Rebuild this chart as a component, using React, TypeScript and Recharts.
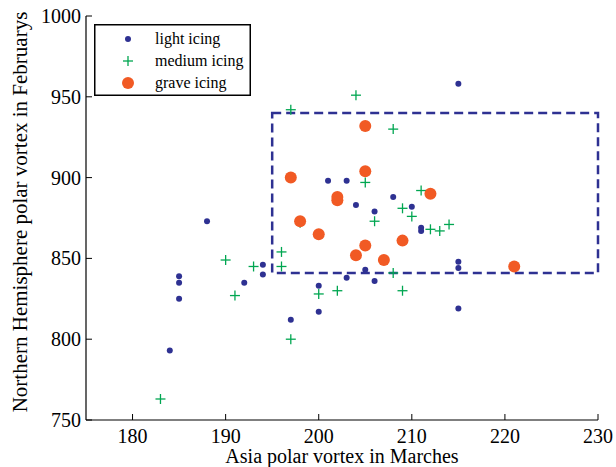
import React from 'react';
import { ScatterChart, Scatter, XAxis, YAxis, ReferenceArea, Legend, Label } from 'recharts';

const FONT = '"Liberation Serif", "Times New Roman", serif';
const NAVY = '#2e3192';
const GREEN = '#00a651';
const ORANGE = '#f15a24';

const xTicks = [180, 190, 200, 210, 220, 230];
const xTopTicks = [180, 190, 200, 210, 220];
const yTicks = [750, 800, 850, 900, 950, 1000];
const yRightTicks = [800, 850, 900, 950];

// [Asia vortex in March, NH vortex in February]
const lightIcing: [number, number][] = [
    [184, 793], [185, 825], [185, 835], [185, 839], [188, 873], [192, 835], [194, 840], [194, 846],
    [197, 812], [200, 817], [200, 833], [201, 898], [203, 838], [203, 898], [204, 883], [205, 843],
    [206, 836], [206, 879], [208, 888], [210, 882], [211, 867], [211, 869], [215, 819], [215, 844],
    [215, 848], [215, 958],
];
const mediumIcing: [number, number][] = [
    [183, 763], [190, 849], [191, 827], [193, 845], [196, 845], [196, 854], [197, 800], [197, 942],
    [198, 872], [200, 828], [202, 830], [204, 951], [205, 897], [206, 873], [208, 930], [208, 841],
    [209, 881], [209, 830], [210, 876], [211, 892], [212, 868], [213, 867], [214, 871],
];
const graveIcing: [number, number][] = [
    [197, 900], [198, 873], [200, 865], [202, 886], [202, 888], [204, 852], [205, 858], [205, 904],
    [205, 932], [207, 849], [209, 861], [212, 890], [221, 845],
];

const toPoints = (arr: [number, number][]) => arr.map(([x, y]) => ({ x, y }));

const Dot = (props: any) => <circle cx={props.cx} cy={props.cy} r={3} fill={NAVY} />;
const Plus = (props: any) => (
    <g stroke={GREEN} strokeWidth={1.3}>
        <line x1={props.cx - 5} y1={props.cy} x2={props.cx + 5} y2={props.cy} />
        <line x1={props.cx} y1={props.cy - 5} x2={props.cx} y2={props.cy + 5} />
    </g>
);
const BigDot = (props: any) => <circle cx={props.cx} cy={props.cy} r={6} fill={ORANGE} />;

const BottomTick = ({ x, y, payload }: any) => (
    <g>
        <line x1={x} y1={y} x2={x} y2={y - 6} stroke="#000" />
        <text x={x} y={y + 23} textAnchor="middle" fontSize={20} fontFamily={FONT} fill="#000">
            {payload.value}
        </text>
    </g>
);
const TopTick = ({ x, y }: any) => <line x1={x} y1={y} x2={x} y2={y + 6} stroke="#000" />;
const LeftTick = ({ x, y, payload }: any) => (
    <g>
        <line x1={x} y1={y} x2={x + 6} y2={y} stroke="#000" />
        <text x={x - 5} y={y + 7} textAnchor="end" fontSize={20} fontFamily={FONT} fill="#000">
            {payload.value}
        </text>
    </g>
);
const RightTick = ({ x, y }: any) => <line x1={x} y1={y} x2={x - 6} y2={y} stroke="#000" />;

const legendRows = [
    { name: 'light icing', kind: 'light' },
    { name: 'medium icing', kind: 'medium' },
    { name: 'grave icing', kind: 'grave' },
];

const LegendBox = () => (
    <svg width={157} height={72} style={{ display: 'block' }}>
        <rect x={0.75} y={0.75} width={155.5} height={70.5} fill="#fff" stroke="#000" strokeWidth={1.5} />
        {legendRows.map((row, i) => {
            const cy = 15 + i * 22;
            return (
                <g key={row.name}>
                    {row.kind === 'light' && <Dot cx={34} cy={cy} />}
                    {row.kind === 'medium' && <Plus cx={34} cy={cy} />}
                    {row.kind === 'grave' && <BigDot cx={34} cy={cy} />}
                    <text x={61} y={cy + 5} fontSize={16} fontFamily={FONT} fill="#000">{row.name}</text>
                </g>
            );
        })}
    </svg>
);

export default function App() {
    return (
        <div style={{ position: 'absolute', left: 0, top: 0, background: '#fff' }}>
            <ScatterChart width={616} height={467} margin={{ top: 16, right: 18, bottom: 0, left: 0 }}>
                <XAxis
                    dataKey="x"
                    type="number"
                    domain={[175, 230]}
                    ticks={xTicks}
                    height={47}
                    tickSize={0}
                    tickMargin={0}
                    tickLine={false}
                    tick={<BottomTick />}
                    axisLine={{ stroke: '#000', strokeWidth: 1.2 }}
                    allowDataOverflow
                >
                    <Label
                        content={({ viewBox }: any) => (
                            <text
                                x={viewBox.x + viewBox.width / 2}
                                y={viewBox.y + viewBox.height - 4}
                                textAnchor="middle"
                                fontSize={20}
                                fontFamily={FONT}
                                fill="#000"
                            >
                                Asia polar vortex in Marches
                            </text>
                        )}
                    />
                </XAxis>
                <XAxis
                    xAxisId="top"
                    orientation="top"
                    type="number"
                    domain={[175, 230]}
                    ticks={xTopTicks}
                    height={0}
                    tickSize={0}
                    tickMargin={0}
                    tickLine={false}
                    tick={<TopTick />}
                    axisLine={{ stroke: '#000', strokeWidth: 1.2 }}
                />
                <YAxis
                    dataKey="y"
                    type="number"
                    domain={[750, 1000]}
                    ticks={yTicks}
                    width={86}
                    tickSize={0}
                    tickMargin={0}
                    tickLine={false}
                    tick={<LeftTick />}
                    axisLine={{ stroke: '#000', strokeWidth: 1.2 }}
                    allowDataOverflow
                >
                    <Label
                        content={({ viewBox }: any) => {
                            const cx = 27;
                            const cy = viewBox.y + viewBox.height / 2 - 6;
                            return (
                                <text
                                    x={cx}
                                    y={cy}
                                    transform={`rotate(-90, ${cx}, ${cy})`}
                                    textAnchor="middle"
                                    fontSize={21}
                                    fontFamily={FONT}
                                    fill="#000"
                                >
                                    Northern Hemisphere polar vortex in Februarys
                                </text>
                            );
                        }}
                    />
                </YAxis>
                <YAxis
                    yAxisId="right"
                    orientation="right"
                    type="number"
                    domain={[750, 1000]}
                    ticks={yRightTicks}
                    width={0}
                    tickSize={0}
                    tickMargin={0}
                    tickLine={false}
                    tick={<RightTick />}
                    axisLine={{ stroke: '#000', strokeWidth: 1.2 }}
                />
                <ReferenceArea
                    x1={195}
                    x2={230}
                    y1={841}
                    y2={940}
                    fill="none"
                    fillOpacity={0}
                    stroke={NAVY}
                    strokeWidth={2.5}
                    strokeDasharray="9 5"
                />
                <Scatter name="light icing" data={toPoints(lightIcing)} shape={<Dot />} isAnimationActive={false} />
                <Scatter name="medium icing" data={toPoints(mediumIcing)} shape={<Plus />} isAnimationActive={false} />
                <Scatter name="grave icing" data={toPoints(graveIcing)} shape={<BigDot />} isAnimationActive={false} />
                <Legend
                    layout="vertical"
                    align="center"
                    verticalAlign="middle"
                    wrapperStyle={{ left: 94, top: 24, width: 157, height: 72 }}
                    content={() => <LegendBox />}
                />
            </ScatterChart>
        </div>
    );
}
